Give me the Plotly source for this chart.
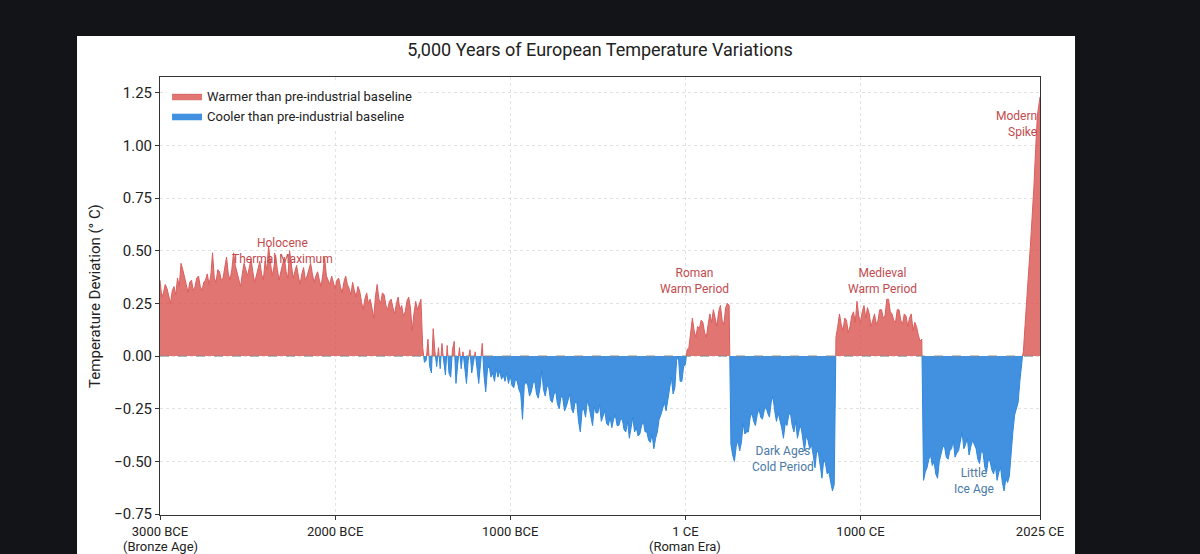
import plotly.graph_objects as go

# ---------------- data (10-year steps) ----------------
years = list(range(-3000, 2021, 10)) + [2025]

bronze_age = [  # -3000 .. -1510
    0.36, 0.28, 0.30, 0.34, 0.32, 0.29, 0.25, 0.31, 0.33, 0.29,
    0.37, 0.33, 0.44, 0.41, 0.38, 0.34, 0.30, 0.35, 0.36, 0.31,
    0.33, 0.37, 0.38, 0.33, 0.31, 0.35, 0.36, 0.39, 0.34, 0.38,
    0.49, 0.37, 0.35, 0.41, 0.40, 0.36, 0.37, 0.43, 0.47, 0.39,
    0.36, 0.41, 0.49, 0.43, 0.40, 0.37, 0.33, 0.39, 0.44, 0.41,
    0.38, 0.42, 0.46, 0.40, 0.35, 0.38, 0.42, 0.45, 0.39, 0.36,
    0.45, 0.41, 0.52, 0.44, 0.38, 0.42, 0.48, 0.41, 0.36, 0.40,
    0.44, 0.47, 0.40, 0.37, 0.50, 0.42, 0.37, 0.40, 0.43, 0.38,
    0.34, 0.39, 0.42, 0.36, 0.38, 0.41, 0.44, 0.39, 0.35, 0.38,
    0.40, 0.36, 0.33, 0.39, 0.47, 0.38, 0.36, 0.34, 0.38, 0.35,
    0.32, 0.36, 0.37, 0.33, 0.30, 0.35, 0.38, 0.34, 0.32, 0.29,
    0.35, 0.31, 0.28, 0.33, 0.31, 0.26, 0.22, 0.27, 0.30, 0.25,
    0.27, 0.23, 0.18, 0.28, 0.34, 0.27, 0.25, 0.30, 0.29, 0.24,
    0.22, 0.26, 0.27, 0.23, 0.20, 0.25, 0.28, 0.22, 0.24, 0.19,
    0.21, 0.26, 0.28, 0.23, 0.12, 0.20, 0.26, 0.22, 0.25, 0.27,
]
late_bronze = [  # -1500 .. -1010
    0.04, -0.03, -0.02, 0.08, -0.05, -0.08, 0.13, 0.02, -0.05, 0.04,
    -0.06, 0.06, -0.03, -0.09, 0.05, -0.08, -0.10, 0.03, 0.07, -0.13,
    -0.04, 0.04, -0.06, 0.02, -0.05, -0.13, -0.02, 0.03, -0.08, -0.03,
    0.02, -0.06, -0.13, -0.04, 0.06, -0.09, -0.17, -0.06, -0.05, -0.10,
    -0.08, -0.12, -0.06, -0.10, -0.07, -0.11, -0.09, -0.12, -0.08, -0.13,
]
iron_age = [  # -1000 .. -10
    -0.09, -0.14, -0.15, -0.11, -0.12, -0.16, -0.18, -0.30, -0.14, -0.12,
    -0.14, -0.19, -0.17, -0.13, -0.12, -0.18, -0.20, -0.15, -0.07, -0.16,
    -0.19, -0.14, -0.15, -0.21, -0.22, -0.18, -0.17, -0.23, -0.25, -0.19,
    -0.20, -0.26, -0.24, -0.21, -0.18, -0.25, -0.27, -0.22, -0.22, -0.31,
    -0.36, -0.26, -0.25, -0.29, -0.21, -0.24, -0.29, -0.33, -0.24, -0.27,
    -0.27, -0.23, -0.31, -0.28, -0.26, -0.32, -0.33, -0.29, -0.34, -0.30,
    -0.28, -0.33, -0.33, -0.30, -0.30, -0.35, -0.36, -0.31, -0.39, -0.34,
    -0.29, -0.36, -0.34, -0.38, -0.37, -0.33, -0.31, -0.36, -0.36, -0.40,
    -0.41, -0.37, -0.44, -0.39, -0.36, -0.30, -0.28, -0.25, -0.22, -0.26,
    -0.20, -0.14, -0.10, -0.18, -0.15, -0.02, 0.00, -0.12, -0.12, -0.05,
]
roman = [  # 0 .. 250
    -0.04, 0.03, 0.04, 0.10, 0.18, 0.12, 0.09, 0.14, 0.13, 0.17,
    0.16, 0.11, 0.09, 0.15, 0.20, 0.16, 0.22, 0.18, 0.14, 0.21,
    0.24, 0.17, 0.15, 0.23, 0.25, 0.24,
]
dark_ages = [  # 260 .. 850
    -0.42, -0.47, -0.50, -0.43, -0.40, -0.45, -0.41, -0.32, -0.37, -0.36,
    -0.36, -0.29, -0.27, -0.31, -0.33, -0.28, -0.25, -0.29, -0.30, -0.26,
    -0.24, -0.27, -0.29, -0.22, -0.19, -0.26, -0.31, -0.27, -0.30, -0.34,
    -0.39, -0.32, -0.33, -0.28, -0.27, -0.33, -0.36, -0.31, -0.39, -0.35,
    -0.33, -0.40, -0.45, -0.38, -0.40, -0.44, -0.42, -0.47, -0.53, -0.45,
    -0.46, -0.52, -0.58, -0.49, -0.51, -0.56, -0.55, -0.60, -0.64, -0.61,
]
medieval = [  # 860 .. 1350
    0.09, 0.14, 0.20, 0.15, 0.12, 0.18, 0.17, 0.11, 0.14, 0.19,
    0.21, 0.16, 0.26, 0.19, 0.16, 0.21, 0.24, 0.18, 0.23, 0.20,
    0.14, 0.17, 0.20, 0.15, 0.17, 0.22, 0.22, 0.18, 0.19, 0.27,
    0.27, 0.21, 0.20, 0.17, 0.16, 0.22, 0.22, 0.17, 0.15, 0.20,
    0.19, 0.14, 0.18, 0.20, 0.12, 0.16, 0.14, 0.10, 0.07, 0.08,
]
little_ice_age = [  # 1360 .. 1920
    -0.59, -0.55, -0.53, -0.49, -0.47, -0.52, -0.50, -0.56, -0.58, -0.50,
    -0.46, -0.43, -0.43, -0.48, -0.49, -0.45, -0.44, -0.40, -0.48, -0.46,
    -0.45, -0.41, -0.36, -0.44, -0.42, -0.39, -0.47, -0.43, -0.40, -0.42,
    -0.44, -0.49, -0.51, -0.45, -0.46, -0.53, -0.55, -0.49, -0.50, -0.54,
    -0.56, -0.52, -0.59, -0.55, -0.53, -0.60, -0.64, -0.58, -0.60, -0.57,
    -0.45, -0.36, -0.28, -0.25, -0.22, -0.12, -0.02,
]
modern = [  # 1930 .. 2020, 2025
    0.02, 0.15, 0.30, 0.40, 0.52, 0.65, 0.80, 0.98, 1.14, 1.20, 1.23,
]

temps = bronze_age + late_bronze + iron_age + roman + dark_ages + medieval + little_ice_age + modern
assert len(temps) == len(years), (len(temps), len(years))

x_tickvals = [-3000, -2000, -1000, 0, 1000, 2025]
x_ticktext = ["3000 BCE", "2000 BCE", "1000 BCE", "1 CE", "1000 CE", "2025 CE"]
x_tick_subtitles = [(-3000, "(Bronze Age)"), (0, "(Roman Era)")]
y_tickvals = [-0.75, -0.5, -0.25, 0.0, 0.25, 0.5, 0.75, 1.0, 1.25]
y_ticktext = ["\u22120.75", "\u22120.50", "\u22120.25", "0.00", "0.25",
              "0.50", "0.75", "1.00", "1.25"]

labels = [
    ("Holocene<br>Thermal Maximum", -2300, 0.50, "warm"),
    ("Roman<br>Warm Period", 53, 0.356, "warm"),
    ("Medieval<br>Warm Period", 1127, 0.356, "warm"),
    ("Dark Ages<br>Cold Period", 556, -0.49, "cold"),
    ("Little<br>Ice Age", 1647, -0.595, "cold"),
]

# ---------------- split into warm / cool parts ----------------
xs, ys = [], []
for i, (yr, v) in enumerate(zip(years, temps)):
    if i > 0:
        p = temps[i - 1]
        if p * v < 0:
            xc = years[i - 1] + (yr - years[i - 1]) * (-p) / (v - p)
            xs.append(xc)
            ys.append(0.0)
    xs.append(yr)
    ys.append(v)

warm = [v if v >= 0 else None for v in ys]
cool = [v if v <= 0 else None for v in ys]

FONT = "Roboto, 'Open Sans', sans-serif"
RED_FILL = "rgba(217,83,79,0.8)"
RED_LINE = "#da5f5f"
BLUE_FILL = "#4191e0"
BLUE_LINE = "#3088dc"

fig = go.Figure()
fig.add_trace(go.Scatter(
    x=xs, y=warm, mode="lines", fill="tozeroy", fillcolor=RED_FILL,
    line=dict(color=RED_LINE, width=1), connectgaps=False,
    name="Warmer than pre-industrial baseline", hoverinfo="skip"))
fig.add_trace(go.Scatter(
    x=xs, y=cool, mode="lines", fill="tozeroy", fillcolor=BLUE_FILL,
    line=dict(color=BLUE_LINE, width=1), connectgaps=False,
    name="Cooler than pre-industrial baseline", hoverinfo="skip"))

# white card behind the chart
fig.add_shape(type="rect", xref="paper", yref="paper",
              x0=-0.0943, x1=1.0398, y0=-0.25, y1=1.0936,
              fillcolor="white", line=dict(width=0), layer="below")
# dashed baseline
fig.add_shape(type="line", xref="x", yref="y", x0=-3000, x1=2025, y0=0, y1=0,
              line=dict(color="#8a8a8a", width=1, dash="dash"), layer="above")

for text, x, y, kind in labels:
    fig.add_annotation(x=x, y=y, text=text, showarrow=False,
                       font=dict(family=FONT, size=12,
                                 color="#c24b4f" if kind == "warm" else "#4a7aa6"),
                       xanchor="center", yanchor="middle", align="center")
fig.add_annotation(x=2018, y=1.103, text="Modern<br>Spike", showarrow=False,
                   font=dict(family=FONT, size=12, color="#c24b4f"),
                   xanchor="right", yanchor="middle", align="right")

# second line of the era tick labels
for xv, txt in x_tick_subtitles:
    fig.add_annotation(x=xv, xref="x", yref="paper", y=-0.071, text=txt,
                       showarrow=False, font=dict(family=FONT, size=13, color="#222"),
                       xanchor="center", yanchor="middle", borderpad=0)

# y axis title
fig.add_annotation(xref="paper", yref="paper", x=-0.074, y=0.5,
                   text="Temperature Deviation (\u00b0 C)", textangle=-90,
                   showarrow=False, font=dict(family=FONT, size=15, color="#222"),
                   xanchor="center", yanchor="middle")

fig.update_layout(
    width=1200, height=554,
    margin=dict(l=160, r=160, t=77, b=39, autoexpand=False),
    paper_bgcolor="#131418", plot_bgcolor="white",
    font=dict(family=FONT, color="#222"),
    title=dict(text="5,000 Years of European Temperature Variations",
               x=0.5, xanchor="center", xref="paper",
               y=1 - 50 / 554, yanchor="middle", yref="container",
               font=dict(family=FONT, size=18, color="#222")),
    showlegend=True,
    legend=dict(x=0.008, y=0.99, xanchor="left", yanchor="top",
                bgcolor="rgba(255,255,255,0.85)", borderwidth=0,
                font=dict(family=FONT, size=13, color="#222"),
                itemwidth=30, tracegroupgap=0),
)
fig.update_xaxes(range=[-3000, 2025], tickvals=x_tickvals, ticktext=x_ticktext,
                 automargin=False,
                 showgrid=True, gridcolor="#e2e2e2", griddash="dot", gridwidth=1,
                 zeroline=False, showline=True, linecolor="#333", linewidth=1,
                 mirror=True, ticks="outside", ticklen=4, tickcolor="#333",
                 tickfont=dict(family=FONT, size=13, color="#222"))
fig.update_yaxes(range=[-0.7545, 1.3245], tickvals=y_tickvals, ticktext=y_ticktext,
                 automargin=False,
                 showgrid=True, gridcolor="#e2e2e2", griddash="dot", gridwidth=1,
                 zeroline=False, showline=True, linecolor="#333", linewidth=1,
                 mirror=True, ticks="outside", ticklen=4, tickcolor="#333",
                 tickfont=dict(family=FONT, size=15, color="#222"))

fig.write_html("out.html")
